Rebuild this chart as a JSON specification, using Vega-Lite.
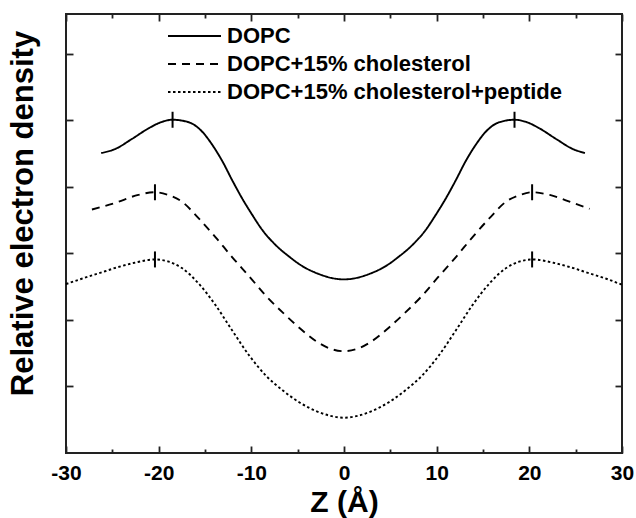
{
  "$schema": "https://vega.github.io/schema/vega-lite/v6.json",
  "width": 556,
  "height": 439,
  "autosize": "none",
  "padding": {"left": 66, "top": 14, "right": 14, "bottom": 65},
  "background": "white",
  "config": {
    "font": "Liberation Sans",
    "view": {"stroke": "#222", "strokeWidth": 2},
    "axis": {"domain": false, "grid": false, "tickColor": "#222", "tickWidth": 1.8, "labelColor": "black", "titleColor": "black"}
  },
  "datasets": {
    "curves": [
      {"z": -26.2, "density": 4.51, "series": "DOPC"},
      {"z": -24.7, "density": 4.57, "series": "DOPC"},
      {"z": -22.9, "density": 4.72, "series": "DOPC"},
      {"z": -21.1, "density": 4.88, "series": "DOPC"},
      {"z": -19.8, "density": 4.97, "series": "DOPC"},
      {"z": -18.5, "density": 5.01, "series": "DOPC"},
      {"z": -16.7, "density": 4.97, "series": "DOPC"},
      {"z": -15.3, "density": 4.83, "series": "DOPC"},
      {"z": -14.2, "density": 4.63, "series": "DOPC"},
      {"z": -13.1, "density": 4.38, "series": "DOPC"},
      {"z": -12.1, "density": 4.11, "series": "DOPC"},
      {"z": -11.0, "density": 3.83, "series": "DOPC"},
      {"z": -9.9, "density": 3.58, "series": "DOPC"},
      {"z": -8.8, "density": 3.35, "series": "DOPC"},
      {"z": -7.4, "density": 3.13, "series": "DOPC"},
      {"z": -5.9, "density": 2.95, "series": "DOPC"},
      {"z": -4.5, "density": 2.81, "series": "DOPC"},
      {"z": -2.7, "density": 2.69, "series": "DOPC"},
      {"z": -0.9, "density": 2.62, "series": "DOPC"},
      {"z": 0, "density": 2.61, "series": "DOPC"},
      {"z": 0.9, "density": 2.62, "series": "DOPC"},
      {"z": 2.7, "density": 2.69, "series": "DOPC"},
      {"z": 4.5, "density": 2.81, "series": "DOPC"},
      {"z": 5.9, "density": 2.95, "series": "DOPC"},
      {"z": 7.4, "density": 3.13, "series": "DOPC"},
      {"z": 8.8, "density": 3.35, "series": "DOPC"},
      {"z": 9.9, "density": 3.58, "series": "DOPC"},
      {"z": 11.0, "density": 3.83, "series": "DOPC"},
      {"z": 12.1, "density": 4.11, "series": "DOPC"},
      {"z": 13.1, "density": 4.38, "series": "DOPC"},
      {"z": 14.2, "density": 4.63, "series": "DOPC"},
      {"z": 15.3, "density": 4.83, "series": "DOPC"},
      {"z": 16.7, "density": 4.97, "series": "DOPC"},
      {"z": 18.4, "density": 5.01, "series": "DOPC"},
      {"z": 19.8, "density": 4.97, "series": "DOPC"},
      {"z": 21.1, "density": 4.88, "series": "DOPC"},
      {"z": 22.9, "density": 4.72, "series": "DOPC"},
      {"z": 24.7, "density": 4.57, "series": "DOPC"},
      {"z": 26.0, "density": 4.51, "series": "DOPC"},

      {"z": -27.2, "density": 3.66, "series": "DOPC+15% cholesterol"},
      {"z": -24.7, "density": 3.76, "series": "DOPC+15% cholesterol"},
      {"z": -22.2, "density": 3.88, "series": "DOPC+15% cholesterol"},
      {"z": -20.4, "density": 3.92, "series": "DOPC+15% cholesterol"},
      {"z": -19.0, "density": 3.88, "series": "DOPC+15% cholesterol"},
      {"z": -17.5, "density": 3.78, "series": "DOPC+15% cholesterol"},
      {"z": -15.7, "density": 3.53, "series": "DOPC+15% cholesterol"},
      {"z": -13.9, "density": 3.25, "series": "DOPC+15% cholesterol"},
      {"z": -12.1, "density": 2.95, "series": "DOPC+15% cholesterol"},
      {"z": -10.2, "density": 2.65, "series": "DOPC+15% cholesterol"},
      {"z": -8.4, "density": 2.36, "series": "DOPC+15% cholesterol"},
      {"z": -6.6, "density": 2.11, "series": "DOPC+15% cholesterol"},
      {"z": -4.8, "density": 1.88, "series": "DOPC+15% cholesterol"},
      {"z": -3.0, "density": 1.68, "series": "DOPC+15% cholesterol"},
      {"z": -1.5, "density": 1.57, "series": "DOPC+15% cholesterol"},
      {"z": 0, "density": 1.53, "series": "DOPC+15% cholesterol"},
      {"z": 1.5, "density": 1.57, "series": "DOPC+15% cholesterol"},
      {"z": 3.0, "density": 1.68, "series": "DOPC+15% cholesterol"},
      {"z": 4.8, "density": 1.88, "series": "DOPC+15% cholesterol"},
      {"z": 6.6, "density": 2.11, "series": "DOPC+15% cholesterol"},
      {"z": 8.4, "density": 2.36, "series": "DOPC+15% cholesterol"},
      {"z": 10.2, "density": 2.65, "series": "DOPC+15% cholesterol"},
      {"z": 12.1, "density": 2.95, "series": "DOPC+15% cholesterol"},
      {"z": 13.9, "density": 3.25, "series": "DOPC+15% cholesterol"},
      {"z": 15.7, "density": 3.53, "series": "DOPC+15% cholesterol"},
      {"z": 17.5, "density": 3.78, "series": "DOPC+15% cholesterol"},
      {"z": 19.0, "density": 3.88, "series": "DOPC+15% cholesterol"},
      {"z": 20.3, "density": 3.92, "series": "DOPC+15% cholesterol"},
      {"z": 22.2, "density": 3.88, "series": "DOPC+15% cholesterol"},
      {"z": 24.7, "density": 3.76, "series": "DOPC+15% cholesterol"},
      {"z": 26.5, "density": 3.67, "series": "DOPC+15% cholesterol"},

      {"z": -30, "density": 2.54, "series": "DOPC+15% cholesterol+peptide"},
      {"z": -28.3, "density": 2.62, "series": "DOPC+15% cholesterol+peptide"},
      {"z": -26.5, "density": 2.70, "series": "DOPC+15% cholesterol+peptide"},
      {"z": -24.5, "density": 2.79, "series": "DOPC+15% cholesterol+peptide"},
      {"z": -22.6, "density": 2.86, "series": "DOPC+15% cholesterol+peptide"},
      {"z": -20.4, "density": 2.91, "series": "DOPC+15% cholesterol+peptide"},
      {"z": -19.0, "density": 2.88, "series": "DOPC+15% cholesterol+peptide"},
      {"z": -17.5, "density": 2.78, "series": "DOPC+15% cholesterol+peptide"},
      {"z": -15.7, "density": 2.55, "series": "DOPC+15% cholesterol+peptide"},
      {"z": -13.9, "density": 2.23, "series": "DOPC+15% cholesterol+peptide"},
      {"z": -12.1, "density": 1.85, "series": "DOPC+15% cholesterol+peptide"},
      {"z": -10.2, "density": 1.46, "series": "DOPC+15% cholesterol+peptide"},
      {"z": -8.4, "density": 1.16, "series": "DOPC+15% cholesterol+peptide"},
      {"z": -6.6, "density": 0.94, "series": "DOPC+15% cholesterol+peptide"},
      {"z": -4.8, "density": 0.76, "series": "DOPC+15% cholesterol+peptide"},
      {"z": -3.0, "density": 0.63, "series": "DOPC+15% cholesterol+peptide"},
      {"z": -1.5, "density": 0.56, "series": "DOPC+15% cholesterol+peptide"},
      {"z": 0, "density": 0.53, "series": "DOPC+15% cholesterol+peptide"},
      {"z": 1.5, "density": 0.56, "series": "DOPC+15% cholesterol+peptide"},
      {"z": 3.0, "density": 0.63, "series": "DOPC+15% cholesterol+peptide"},
      {"z": 4.8, "density": 0.76, "series": "DOPC+15% cholesterol+peptide"},
      {"z": 6.6, "density": 0.94, "series": "DOPC+15% cholesterol+peptide"},
      {"z": 8.4, "density": 1.16, "series": "DOPC+15% cholesterol+peptide"},
      {"z": 10.2, "density": 1.46, "series": "DOPC+15% cholesterol+peptide"},
      {"z": 12.1, "density": 1.85, "series": "DOPC+15% cholesterol+peptide"},
      {"z": 13.9, "density": 2.23, "series": "DOPC+15% cholesterol+peptide"},
      {"z": 15.7, "density": 2.55, "series": "DOPC+15% cholesterol+peptide"},
      {"z": 17.5, "density": 2.78, "series": "DOPC+15% cholesterol+peptide"},
      {"z": 19.0, "density": 2.88, "series": "DOPC+15% cholesterol+peptide"},
      {"z": 20.3, "density": 2.91, "series": "DOPC+15% cholesterol+peptide"},
      {"z": 22.6, "density": 2.86, "series": "DOPC+15% cholesterol+peptide"},
      {"z": 24.5, "density": 2.79, "series": "DOPC+15% cholesterol+peptide"},
      {"z": 26.5, "density": 2.70, "series": "DOPC+15% cholesterol+peptide"},
      {"z": 28.3, "density": 2.62, "series": "DOPC+15% cholesterol+peptide"},
      {"z": 30, "density": 2.53, "series": "DOPC+15% cholesterol+peptide"}
    ],
    "peaks": [
      {"z": -18.5, "density": 5.01, "series": "DOPC"},
      {"z": 18.4, "density": 5.01, "series": "DOPC"},
      {"z": -20.4, "density": 3.92, "series": "DOPC+15% cholesterol"},
      {"z": 20.3, "density": 3.92, "series": "DOPC+15% cholesterol"},
      {"z": -20.4, "density": 2.91, "series": "DOPC+15% cholesterol+peptide"},
      {"z": 20.3, "density": 2.91, "series": "DOPC+15% cholesterol+peptide"}
    ]
  },
  "layer": [
    {
      "data": {"name": "curves"},
      "mark": {"type": "line", "interpolate": "monotone", "color": "black", "strokeWidth": 1.9},
      "encoding": {
        "x": {
          "field": "z", "type": "quantitative",
          "scale": {"domain": [-30, 30], "nice": false, "zero": false},
          "axis": {
            "orient": "bottom",
            "values": [-30, -20, -10, 0, 10, 20, 30],
            "labelExpr": "toString(datum.value)",
            "tickSize": -7,
            "labelFontSize": 21, "labelFontWeight": "bold", "labelPadding": 16,
            "labelFlush": false, "labelOverlap": false,
            "title": "Z (Å)", "titleFontSize": 30, "titleFontWeight": "bold", "titlePadding": 4
          }
        },
        "y": {
          "field": "density", "type": "quantitative",
          "scale": {"domain": [0, 6.6], "nice": false, "zero": false},
          "axis": {
            "orient": "left",
            "values": [1, 2, 3, 4, 5, 6],
            "tickSize": -7,
            "labels": false,
            "title": "Relative electron density", "titleFontSize": 31, "titleFontWeight": "bold",
            "titlePadding": 26, "titleY": 199
          }
        },
        "strokeDash": {
          "field": "series", "type": "nominal",
          "scale": {
            "domain": ["DOPC", "DOPC+15% cholesterol", "DOPC+15% cholesterol+peptide"],
            "range": [[1, 0], [8, 6], [2.5, 2.5]]
          },
          "legend": {
            "orient": "none", "legendX": 114, "legendY": 7.5,
            "title": null, "padding": 0, "rowPadding": 2,
            "symbolType": "M-2,0L2,0", "symbolSize": 702, "symbolStrokeWidth": 1.9, "symbolStrokeColor": "black",
            "labelOffset": 18,
            "labelFontSize": 22, "labelFontWeight": "bold", "labelColor": "black", "labelLimit": 0
          }
        }
      }
    },
    {
      "data": {"name": "peaks"},
      "mark": {"type": "point", "shape": "M0,-1L0,1", "size": 256, "stroke": "black", "strokeWidth": 2, "filled": false, "opacity": 1},
      "encoding": {
        "x": {"field": "z", "type": "quantitative",
          "axis": {"orient": "bottom", "values": [-25, -15, -5, 5, 15, 25], "tickSize": -4, "labels": false, "title": null}},
        "y": {"field": "density", "type": "quantitative",
          "axis": {"orient": "right", "values": [1, 2, 3, 4, 5, 6], "tickSize": -7, "labels": false, "title": null}}
      }
    },
    {
      "data": {"name": "peaks"},
      "mark": {"type": "point", "opacity": 0},
      "encoding": {
        "x": {"field": "z", "type": "quantitative",
          "axis": {"orient": "top", "values": [-30, -20, -10, 0, 10, 20, 30], "tickSize": -7, "labels": false, "title": null}},
        "y": {"field": "density", "type": "quantitative", "axis": null}
      }
    },
    {
      "data": {"name": "peaks"},
      "mark": {"type": "point", "opacity": 0},
      "encoding": {
        "x": {"field": "z", "type": "quantitative",
          "axis": {"orient": "top", "values": [-25, -15, -5, 5, 15, 25], "tickSize": -4, "labels": false, "title": null}},
        "y": {"field": "density", "type": "quantitative", "axis": null}
      }
    }
  ],
  "resolve": {"axis": {"x": "independent", "y": "independent"}}
}
